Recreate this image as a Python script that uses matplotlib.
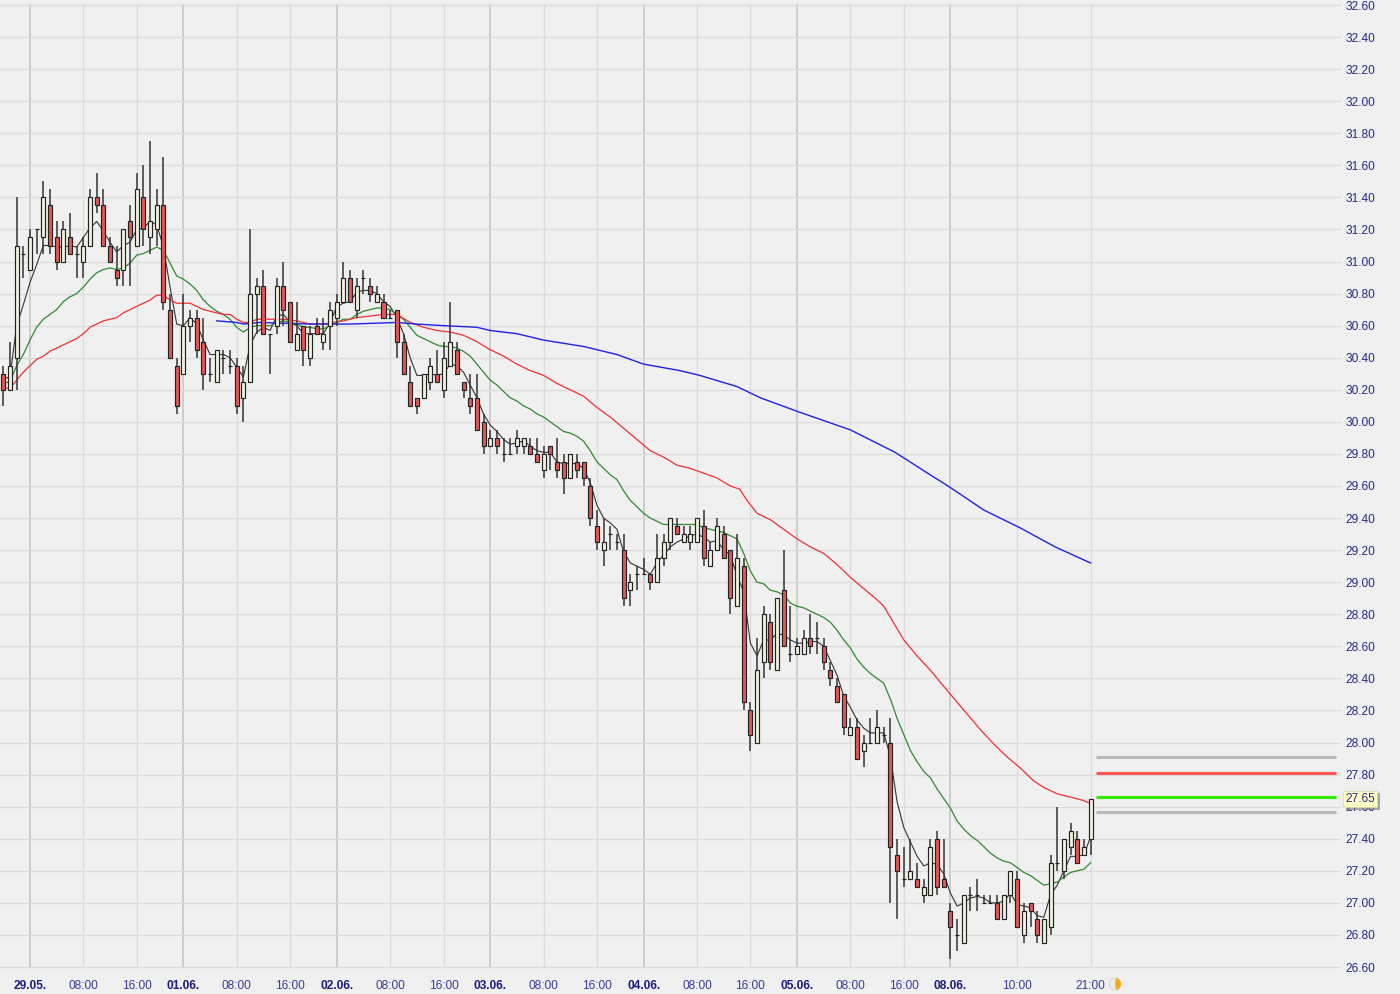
#python 3
import matplotlib
matplotlib.use("Agg")
import matplotlib.pyplot as plt
import matplotlib.patheffects as pe
from matplotlib.patches import Circle, Wedge
from matplotlib.transforms import IdentityTransform

plt.rcParams['font.family'] = ['Liberation Sans', 'DejaVu Sans']

## candles, one row of ten per line
opens = [30.30,30.20,30.40,31.05,30.95,31.20,31.15,31.35,31.15,31.00,
         31.15,31.05,31.00,31.10,31.40,31.35,31.10,30.95,30.95,31.25,
         31.10,31.40,31.15,31.20,31.35,30.70,30.35,30.30,30.60,30.65,
         30.50,30.30,30.25,30.40,30.35,30.35,30.15,30.25,30.80,30.85,
         30.55,30.60,30.85,30.75,30.45,30.60,30.40,30.60,30.50,30.60,
         30.65,30.75,30.90,30.70,30.90,30.85,30.75,30.75,30.65,30.70,
         30.50,30.25,30.15,30.15,30.25,30.30,30.20,30.35,30.45,30.25,
         30.15,30.15,30.00,29.85,29.90,29.80,29.80,29.85,29.85,29.85,
         29.80,29.70,29.85,29.75,29.75,29.65,29.75,29.75,29.60,29.35,
         29.20,29.30,29.25,29.20,28.95,29.05,29.05,29.05,29.00,29.15,
         29.25,29.35,29.25,29.25,29.25,29.35,29.10,29.20,29.30,29.20,
         28.85,29.10,28.20,28.00,28.50,28.75,28.45,28.95,28.55,28.55,
         28.55,28.65,28.65,28.60,28.45,28.35,28.30,28.05,28.10,27.95,
         28.00,28.00,28.05,28.00,27.30,27.15,27.15,27.15,27.05,27.05,
         27.40,27.15,26.95,26.80,26.75,27.05,27.05,27.00,27.00,27.00,
         26.90,27.05,27.15,26.80,27.00,26.90,26.75,26.85,27.25,27.20,
         27.35,27.40,27.30,27.40]
closes = [30.20,30.35,31.10,31.05,31.15,31.20,31.40,31.10,31.00,31.20,
          31.05,31.05,31.10,31.40,31.35,31.10,31.00,30.90,31.20,31.15,
          31.45,31.20,31.25,31.35,30.75,30.40,30.10,30.60,30.65,30.45,
          30.30,30.30,30.45,30.40,30.35,30.10,30.25,30.80,30.85,30.55,
          30.55,30.85,30.70,30.50,30.55,30.45,30.55,30.55,30.55,30.70,
          30.75,30.90,30.75,30.85,30.90,30.80,30.80,30.65,30.65,30.50,
          30.30,30.10,30.10,30.30,30.35,30.25,30.40,30.50,30.30,30.20,
          30.10,29.95,29.85,29.90,29.85,29.80,29.80,29.90,29.90,29.80,
          29.75,29.80,29.80,29.70,29.65,29.80,29.70,29.65,29.40,29.25,
          29.25,29.30,29.25,28.90,29.00,29.05,29.05,29.00,29.15,29.25,
          29.40,29.30,29.30,29.30,29.40,29.15,29.20,29.35,29.15,28.90,
          29.15,28.25,28.05,28.45,28.80,28.50,28.90,28.60,28.55,28.60,
          28.65,28.60,28.65,28.50,28.40,28.25,28.10,28.10,27.90,28.00,
          28.00,28.10,28.05,27.35,27.20,27.15,27.20,27.10,27.10,27.35,
          27.10,27.10,26.85,26.80,27.05,27.05,27.05,27.00,27.00,26.90,
          27.05,27.20,26.85,26.95,26.95,26.80,26.90,27.25,27.25,27.40,
          27.45,27.25,27.35,27.65]
highs = [30.35,30.50,31.40,31.10,31.20,31.20,31.50,31.45,31.25,31.25,
         31.30,31.10,31.15,31.45,31.55,31.45,31.15,31.10,31.20,31.35,
         31.55,31.60,31.75,31.45,31.65,30.80,30.40,30.80,30.70,30.70,
         30.65,30.40,30.45,30.45,30.45,30.40,30.35,31.20,30.90,30.95,
         30.55,30.90,31.00,30.75,30.75,30.60,30.60,30.65,30.65,30.75,
         30.80,31.00,30.95,30.90,30.95,30.90,30.85,30.80,30.70,30.70,
         30.55,30.35,30.15,30.30,30.40,30.45,30.50,30.75,30.50,30.25,
         30.30,30.30,30.05,29.95,29.95,29.90,29.90,29.95,29.90,29.90,
         29.90,29.85,29.85,29.90,29.80,29.80,29.80,29.75,29.65,29.45,
         29.40,29.35,29.30,29.30,29.05,29.10,29.15,29.05,29.30,29.30,
         29.40,29.40,29.35,29.35,29.40,29.45,29.25,29.40,29.35,29.20,
         29.30,29.15,28.25,28.65,28.85,28.80,28.90,29.20,28.85,28.65,
         28.70,28.80,28.75,28.65,28.50,28.40,28.30,28.15,28.15,28.05,
         28.15,28.20,28.10,28.15,27.40,27.35,27.40,27.25,27.15,27.40,
         27.45,27.40,27.00,26.90,27.05,27.10,27.15,27.05,27.05,27.05,
         27.05,27.20,27.20,27.00,27.00,26.95,26.90,27.30,27.60,27.40,
         27.50,27.45,27.40,27.65]
lows = [30.10,30.20,30.20,30.90,30.95,31.05,31.05,31.05,30.95,31.00,
        31.05,30.90,30.90,31.10,31.30,31.10,31.00,30.85,30.85,30.85,
        31.10,31.10,31.05,31.10,30.70,30.40,30.05,30.30,30.50,30.40,
        30.20,30.25,30.25,30.30,30.30,30.05,30.00,30.25,30.55,30.55,
        30.30,30.55,30.60,30.50,30.45,30.35,30.35,30.55,30.45,30.45,
        30.60,30.75,30.75,30.65,30.80,30.75,30.75,30.65,30.65,30.40,
        30.30,30.10,30.05,30.15,30.20,30.25,30.15,30.35,30.30,30.15,
        30.05,29.95,29.80,29.85,29.80,29.75,29.80,29.80,29.80,29.80,
        29.75,29.65,29.70,29.65,29.55,29.65,29.65,29.60,29.35,29.20,
        29.10,29.20,29.20,28.85,28.85,28.95,29.05,28.95,29.00,29.10,
        29.20,29.30,29.25,29.20,29.25,29.10,29.10,29.20,29.15,28.80,
        28.85,28.20,27.95,28.00,28.40,28.45,28.45,28.60,28.50,28.55,
        28.55,28.55,28.55,28.45,28.35,28.25,28.05,28.05,27.90,27.85,
        28.00,28.00,28.00,27.00,26.90,27.10,27.15,27.10,27.00,27.05,
        27.05,27.10,26.65,26.70,26.75,26.95,26.95,27.00,27.00,26.90,
        26.90,27.00,26.85,26.75,26.85,26.75,26.75,26.80,27.20,27.15,
        27.30,27.25,27.30,27.30]

## moving averages
ma_fast = [30.27,30.28,30.60,30.73,30.87,30.98,31.10,31.10,31.09,31.09,
           31.10,31.09,31.15,31.21,31.25,31.19,31.12,31.06,31.10,31.12,
           31.20,31.21,31.25,31.23,31.09,30.84,30.61,30.60,30.65,30.61,
           30.51,30.42,30.42,30.42,30.40,30.34,30.28,30.48,30.56,30.59,
           30.57,30.66,30.67,30.62,30.60,30.55,30.55,30.55,30.55,30.62,
           30.72,30.74,30.75,30.81,30.82,30.82,30.80,30.75,30.72,30.65,
           30.55,30.40,30.29,30.29,30.30,30.29,30.30,30.36,30.35,30.31,
           30.23,30.15,30.05,29.98,29.94,29.89,29.86,29.87,29.88,29.85,
           29.82,29.81,29.81,29.75,29.74,29.74,29.74,29.71,29.62,29.48,
           29.40,29.37,29.33,29.19,29.12,29.10,29.08,29.05,29.12,29.17,
           29.22,29.25,29.27,29.29,29.30,29.28,29.25,29.26,29.20,29.17,
           29.04,28.94,28.62,28.54,28.64,28.64,28.68,28.67,28.64,28.62,
           28.62,28.63,28.63,28.60,28.51,28.42,28.29,28.22,28.14,28.09,
           28.06,28.06,28.06,27.91,27.63,27.47,27.38,27.29,27.23,27.25,
           27.24,27.18,27.06,26.98,27.00,27.03,27.04,27.03,27.00,27.00,
           27.01,27.06,26.99,26.98,26.97,26.92,26.91,27.05,27.11,27.20,
           27.29,27.29,27.30,27.41]
ma_mid = [30.24,30.25,30.35,30.42,30.51,30.59,30.64,30.67,30.70,30.75,
          30.78,30.80,30.84,30.89,30.93,30.95,30.96,30.95,30.96,30.99,
          31.04,31.05,31.07,31.09,31.07,30.99,30.91,30.89,30.86,30.82,
          30.76,30.72,30.69,30.67,30.64,30.59,30.56,30.59,30.60,30.60,
          30.60,30.62,30.63,30.62,30.61,30.59,30.59,30.58,30.58,30.60,
          30.62,30.64,30.64,30.67,30.69,30.70,30.71,30.71,30.70,30.67,
          30.64,30.59,30.54,30.52,30.50,30.48,30.47,30.47,30.46,30.44,
          30.41,30.36,30.31,30.26,30.23,30.19,30.15,30.13,30.10,30.08,
          30.05,30.03,30.00,29.97,29.94,29.93,29.91,29.88,29.82,29.75,
          29.71,29.67,29.64,29.57,29.51,29.47,29.43,29.40,29.38,29.36,
          29.36,29.36,29.36,29.36,29.36,29.34,29.33,29.32,29.31,29.29,
          29.27,29.18,29.07,29.00,28.99,28.95,28.94,28.92,28.87,28.85,
          28.84,28.82,28.80,28.78,28.75,28.70,28.64,28.59,28.52,28.47,
          28.43,28.40,28.37,28.27,28.15,28.05,27.95,27.88,27.82,27.78,
          27.71,27.65,27.59,27.51,27.46,27.42,27.39,27.35,27.31,27.28,
          27.26,27.25,27.22,27.19,27.17,27.14,27.11,27.12,27.13,27.16,
          27.19,27.20,27.21,27.25]
red_x = [0,1,2,3,4,5,6,7,8,9,10,11,12,13,14,15,16,17,18,19,20,21,22,23,24,25,26,27,28,29,
         30,31,32,33,34,35,36,37,38,40,42,44,46,48,51,53,55,57,59,61,63,65,67,69,71,73,75,
         77,79,81,83,85,87,89,91,93,95,97,99,101,103,105,107,109,110.4,111.5,113,115,117,
         119,121,123,125,127,129,131,132,133,135,137,139,142,146.5,148.5,150.5,152.5,154.5,
         156,158,160,161.8,163]
red_y = [30.21,30.21,30.26,30.31,30.35,30.39,30.41,30.44,30.46,30.48,30.50,30.52,30.55,30.59,
         30.61,30.63,30.64,30.65,30.68,30.70,30.72,30.74,30.76,30.79,30.79,30.76,30.74,30.74,
         30.74,30.72,30.70,30.69,30.68,30.67,30.67,30.64,30.62,30.62,30.64,30.64,30.64,30.63,
         30.61,30.61,30.63,30.65,30.66,30.67,30.67,30.62,30.59,30.57,30.56,30.54,30.50,30.45,
         30.41,30.36,30.32,30.29,30.24,30.20,30.16,30.09,30.03,29.96,29.89,29.82,29.78,29.73,
         29.71,29.68,29.65,29.60,29.58,29.51,29.43,29.39,29.33,29.27,29.22,29.18,29.11,29.03,
         28.96,28.89,28.85,28.78,28.64,28.54,28.45,28.30,28.08,27.99,27.91,27.84,27.76,27.72,
         27.68,27.66,27.64,27.62]
blue_x = [32,35,36,38.5,46,52,59,62,66,71,73,77,81,87,92,96,101.4,104.4,110,113.5,119.4,127,
          133.7,138.2,142,147,152.4,157.7,163]
blue_y = [30.63,30.62,30.61,30.62,30.61,30.61,30.62,30.61,30.60,30.59,30.57,30.55,30.51,30.47,
          30.42,30.36,30.32,30.29,30.22,30.15,30.06,29.95,29.81,29.69,29.59,29.45,29.34,29.22,
          29.12]

## axes labels and level lines
price_ticks = [26.6 + 0.2 * i for i in range(31)]
time_pos = [4,12,20,27,35,43,50,58,66,73,81,89,96,104,112,119,127,135,142,152,163]
time_labels = ["29.05.","08:00","16:00","01.06.","08:00","16:00","02.06.","08:00","16:00",
               "03.06.","08:00","16:00","04.06.","08:00","16:00","05.06.","08:00","16:00",
               "08.06.","10:00","21:00"]
level_values = [27.91, 27.81, 27.66, 27.565]
level_colors = ['#b9b9b9', '#ff5555', '#33ee00', '#b9b9b9']
last_price = "27.65"

fig = plt.figure(figsize=(14, 9.94), dpi=100, facecolor='#f0f0f0')
ax = fig.add_axes([0, 1 - 967 / 994, 1340 / 1400, (967 - 5) / 994])
ax.set_facecolor('#f0f0f0')
ax.set_xlim(-0.495, 200.4)
ax.set_ylim(26.6, 32.6)
for s in ax.spines.values():
    s.set_visible(False)

ax.yaxis.tick_right()
ax.set_yticks(price_ticks)
ax.set_yticklabels(["%.2f" % p for p in price_ticks])
ax.set_xticks(time_pos)
ax.set_xticklabels(time_labels)
ax.tick_params(length=0)
ax.tick_params(axis='y', pad=4.2, labelsize=8.6, labelcolor='#28288c')
ax.tick_params(axis='x', pad=9.5, labelsize=8.6, labelcolor='#3a3aa0')
ax.grid(True, axis='y', color='#dcdcdc', lw=1.0, clip_on=False)
ax.grid(True, axis='x', color='#dcdcdc', lw=1.0, clip_on=False)
ax.set_axisbelow(True)

for tick, lab in zip(ax.xaxis.get_major_ticks(), time_labels):
    if lab.endswith('.'):
        tick.gridline.set_color('#c6c6c6')
        tick.gridline.set_linewidth(1.2)
        tick.label1.set_fontweight('bold')
        tick.label1.set_color('#1c1c80')

xs = list(range(len(opens)))
ax.plot(xs, ma_fast, color='#333333', lw=0.8, zorder=2)
ax.plot(xs, ma_mid, color='#2e8b2e', lw=0.9, zorder=2)
ax.plot(red_x, red_y, color='#f03030', lw=0.9, zorder=2)
ax.plot(blue_x, blue_y, color='#2020e8', lw=1.0, zorder=2)

ax.vlines(xs, lows, highs, color='#333333', lw=1.1, zorder=3)
bottoms = [min(o, c) for o, c in zip(opens, closes)]
heights = [abs(o - c) for o, c in zip(opens, closes)]
colors = ['#e85555' if c < o else '#f2f2de' for o, c in zip(opens, closes)]
ax.bar(xs, heights, bottom=bottoms, width=0.6, color=colors, edgecolor='#222222', lw=0.85, zorder=4)

for v, c in zip(level_values, level_colors):
    ax.hlines(v, 163.8, 199.8, color=c, lw=2.2, zorder=3)

price_box = ax.annotate(last_price, xy=(1, 27.65), xycoords=('axes fraction', 'data'),
                        xytext=(3.6, 0), textcoords='offset points', va='center', ha='left',
                        fontsize=8.6, color='#28288c', zorder=10, annotation_clip=False,
                        bbox=dict(boxstyle='square,pad=0.18', fc='#ffffc8', ec='#d8d8a0', lw=0.5))
price_box.get_bbox_patch().set_path_effects([
    pe.SimplePatchShadow(offset=(2, -2), shadow_rgbFace='#777777', alpha=0.6), pe.Normal()])

# small clock mark after the last time label
clock_xy = (1115, 994 - 984)
fig.add_artist(Circle(clock_xy, 6, transform=IdentityTransform(), fc='#ececec', ec='#d0d0d0', lw=0.6))
fig.add_artist(Wedge(clock_xy, 6, -80, 80, transform=IdentityTransform(), fc='#f8a818', ec='none'))

fig.savefig('out.png', dpi=100, facecolor=fig.get_facecolor())
